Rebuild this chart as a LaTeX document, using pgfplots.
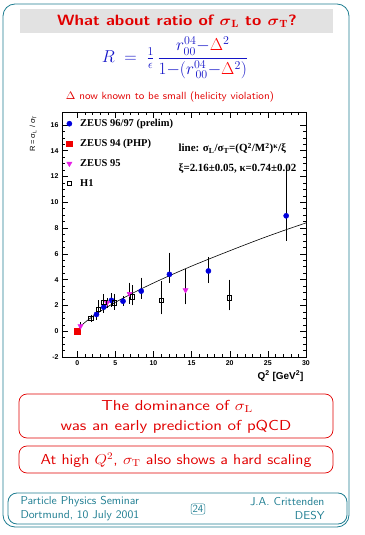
\documentclass[border=0pt]{standalone}
\usepackage{amsmath}
\usepackage{graphicx}
\usepackage{pgfplots}
\pgfplotsset{compat=1.18}
\usepackage{fontspec}
\newfontfamily\arial{Liberation Sans}
\newfontfamily\tnr{Liberation Serif}
\definecolor{teal1}{RGB}{30,125,145}
\definecolor{slidered}{RGB}{225,0,0}
\definecolor{formblue}{RGB}{20,20,200}
\definecolor{zblue}{RGB}{0,0,220}
\definecolor{zred}{RGB}{240,0,0}
\definecolor{zmag}{RGB}{230,30,230}
\definecolor{bandgray}{RGB}{226,226,226}
\begin{document}
\begin{tikzpicture}
\path (0,0) rectangle (365bp,535bp);
\begin{scope}[x=1bp,y=1bp]
\draw[teal1, line width=0.8bp, rounded corners=12bp] (3,531) rectangle (349,8);
\fill[bandgray] (20,526) rectangle (333,502);
\node[text=slidered, font=\sffamily\bfseries\fontsize{15}{16}\selectfont] at (177,514) {\scalebox{1.13}[1]{What about ratio of $\boldsymbol{\sigma}_{\mathbf{L}}$ to $\boldsymbol{\sigma}_{\mathbf{T}}$?}};
\node[text=formblue, font=\fontsize{17}{19}\selectfont] at (175,477) {$R\;=\;\textstyle\frac{1}{\epsilon}\,\displaystyle\frac{r^{04}_{00}{-}{\color{red}\Delta}^{2}}{1{-}(r^{04}_{\,00}{-}{\color{red}\Delta}^{2})}$};
\node[text=slidered, font=\sffamily\fontsize{10.5}{11}\selectfont] at (170,438) {\scalebox{1.06}[1]{$\Delta$ now known to be small (helicity violation)}};
\draw[slidered, line width=0.7bp, rounded corners=8bp] (19,141) rectangle (333,97);
\node[text=slidered, font=\sffamily\fontsize{14.5}{16}\selectfont] at (177,129) {\scalebox{1.2}[1]{The dominance of $\sigma_{\mathrm{L}}$}};
\node[text=slidered, font=\sffamily\fontsize{14.5}{16}\selectfont] at (176,108) {\scalebox{1.2}[1]{was an early prediction of pQCD}};
\draw[slidered, line width=0.7bp, rounded corners=8bp] (19,89) rectangle (333,62);
\node[text=slidered, font=\sffamily\fontsize{14.5}{16}\selectfont] at (176,75) {\scalebox{1.12}[1]{At high $Q^2$, $\sigma_{\mathrm{T}}$ also shows a hard scaling}};
\draw[teal1, line width=0.8bp, rounded corners=9bp] (8,42) rectangle (347,11);
\node[anchor=west, text=teal1, font=\sffamily\fontsize{11.5}{12}\selectfont] at (17,33) {\scalebox{1.04}[1]{Particle Physics Seminar}};
\node[anchor=west, text=teal1, font=\sffamily\fontsize{11.5}{12}\selectfont] at (17,19) {\scalebox{1.04}[1]{Dortmund, 10 July 2001}};
\node[anchor=east, text=teal1, font=\sffamily\fontsize{11.5}{12}\selectfont] at (328,33) {\scalebox{1.04}[1]{J.A. Crittenden}};
\node[anchor=east, text=teal1, font=\sffamily\fontsize{11.5}{12}\selectfont] at (328,19) {\scalebox{1.04}[1]{DESY}};
\node[draw=teal1, rounded corners=2bp, text=teal1, inner sep=1.5bp, font=\sffamily\fontsize{11}{12}\selectfont] at (198,26) {24};
\node[rotate=90, anchor=east, font=\arial\fontsize{7.5}{9}\selectfont] at (33,423) {R = σ\textsubscript{L} / σ\textsubscript{T}};
\node[anchor=east, font=\arial\bfseries\fontsize{10}{11}\selectfont] at (307,159) {Q\textsuperscript{2} [GeV\textsuperscript{2}]};
\end{scope}
\begin{axis}[at={(62bp,178bp)}, anchor=south west, scale only axis,
  width=244bp, height=245bp,
  xmin=-2, xmax=30, ymin=-2, ymax=17,
  xtick={0,5,...,30}, ytick={-2,0,...,16},
  minor x tick num=4, minor y tick num=3,
  tick align=inside, major tick length=6bp, minor tick length=3bp,
  tick style={black, line width=0.5bp},
  axis line style={line width=0.7bp},
  /pgf/number format/assume math mode=true,
  ticklabel style={font=\arial\bfseries\fontsize{7}{8}\selectfont},
  legend cell align=left,
  legend style={at={(rel axis cs:0.018,0.975)}, anchor=north west, draw=none, fill=none,
    inner sep=0pt, row sep=9.3bp, font=\tnr\bfseries\fontsize{10.5}{11}\selectfont,
    nodes={inner sep=1bp},
    /tikz/every odd column/.append style={column sep=7bp}},
  legend image code/.code={\draw[#1] plot coordinates {(0bp,0bp)};},
  error bars/error bar style={black, line width=0.6bp},
  error bars/error mark options={black, mark size=2.5bp, line width=0.6bp},
]
\addplot[only marks, mark=*, mark size=2.6bp, mark options={draw=zblue, fill=zblue},
  error bars/.cd, y dir=both, y explicit]
  table[x=x, y=y, y error plus=ep, y error minus=em] {
x y ep em
2.52 1.30 0.20 0.20
3.48 1.87 0.25 0.25
4.48 2.39 0.35 0.30
6.00 2.33 0.20 0.20
8.39 3.11 0.85 0.40
12.09 4.41 1.50 0.47
17.20 4.67 0.90 0.75
27.40 8.95 3.70 1.75
};
\addlegendentry{ZEUS 96/97 (prelim)}
\addplot[only marks, mark=square*, mark size=2.8bp, mark options={draw=zred, fill=zred}]
  coordinates {(0,0)};
\addlegendentry{ZEUS 94 (PHP)}
\addplot[only marks, mark=triangle*, mark size=3bp, mark options={rotate=180, draw=zmag, fill=zmag},
  error bars/.cd, y dir=both, y explicit]
  table[x=x, y=y, y error plus=ep, y error minus=em] {
x y ep em
0.43 0.39 0.10 0.10
3.90 2.20 0.20 0.20
6.87 2.90 0.68 0.57
14.20 3.19 1.42 0.91
};
\addlegendentry{ZEUS 95}
\addplot[only marks, mark=square, mark size=2.1bp, mark options={draw=black, fill=white, line width=0.6bp},
  error bars/.cd, y dir=both, y explicit]
  table[x=x, y=y, y error plus=ep, y error minus=em] {
x y ep em
1.78 0.99 0.10 0.10
2.74 1.69 0.50 0.20
3.48 2.26 0.40 0.30
4.85 2.20 0.50 0.35
7.26 2.67 0.70 0.47
11.05 2.39 1.29 0.89
19.93 2.59 1.22 0.78
};
\addlegendentry{H1}
\addplot[black, line width=0.6bp, smooth, no marks, forget plot] coordinates {
(0.1,0.12) (0.5,0.41) (1,0.68) (2,1.14) (3,1.53) (4,1.90) (5,2.24) (6,2.56)
(8,3.17) (10,3.74) (12,4.28) (15,5.05) (18,5.77) (21,6.47) (24,7.15) (27,7.79) (30,8.40)};
\node[anchor=west, font=\tnr\bfseries\fontsize{11}{12}\selectfont, inner sep=0pt] at (axis cs:13.27,14.16)
  {line: σ\textsubscript{L}/σ\textsubscript{T}=(Q\textsuperscript{2}/M\textsuperscript{2})\textsuperscript{κ}/ξ};
\node[anchor=west, font=\tnr\bfseries\fontsize{11}{12}\selectfont, inner sep=0pt] at (axis cs:13.27,12.6)
  {ξ=2.16±0.05, κ=0.74±0.02};
\end{axis}
\end{tikzpicture}
\end{document}
